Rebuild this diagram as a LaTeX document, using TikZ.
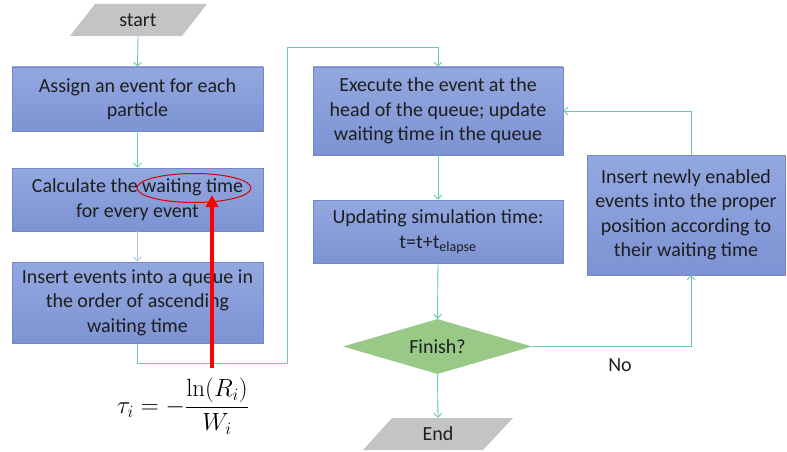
\documentclass[tikz,border=0pt]{standalone}
\usepackage[no-math]{fontspec}
\setmainfont{Carlito}
\usetikzlibrary{arrows.meta,shapes.geometric}
\definecolor{boxtop}{HTML}{93A8E0}
\definecolor{boxbot}{HTML}{7D93D3}
\definecolor{boxline}{HTML}{7488C8}
\definecolor{conncol}{HTML}{66CCAA}
\definecolor{lightconn}{HTML}{A8C8E8}
\definecolor{dgreen}{HTML}{98C987}
\definecolor{pgray}{HTML}{C4C4C4}
\definecolor{txt}{HTML}{1E1E1E}
\begin{document}
\begin{tikzpicture}[x=1pt,y=-1pt,
  box/.style={rectangle, draw=boxline, line width=0.6pt, top color=boxtop, bottom color=boxbot,
    text=txt, align=center, font=\fontsize{20}{24.5}\selectfont, inner sep=0pt},
  conn/.style={draw=conncol, line width=0.9pt, -{Straight Barb[length=4pt,width=8pt]}},
  term/.style={rectangle, inner sep=0pt, text=txt, font=\fontsize{20}{22}\selectfont}]
\useasboundingbox (0,0) rectangle (787,452);
% start parallelogram
\fill[pgray] (95,4) -- (207,4) -- (182,36) -- (70,36) -- cycle;
\node[term, minimum width=110, minimum height=32] (start) at (138,20) {start};
% boxes
\node[box, minimum width=251, minimum height=64] (b1) at (137.5,99) {Assign an event for each\\particle};
\node[box, minimum width=251, minimum height=63] (b2) at (137.5,199.5) {Calculate the waiting time\\for every event};
\node[box, minimum width=251, minimum height=81] (b3) at (137.5,302.5) {Insert events into a queue in\\the order of ascending\\waiting time};
\node[box, minimum width=250, minimum height=88] (b4) at (438,111) {Execute the event at the\\head of the queue; update\\waiting time in the queue};
\node[box, minimum width=250, minimum height=63] (b5) at (438,231.5) {Updating simulation time:\\t=t+t\textsubscript{elapse}};
\node[box, minimum width=198, minimum height=120] (b6) at (686,215) {Insert newly enabled\\events into the proper\\position according to\\their waiting time};
% diamond
\node[diamond, fill=dgreen, minimum width=189, minimum height=55, inner sep=0pt, aspect=3.4,
  text=txt, font=\fontsize{20}{22}\selectfont] (dia) at (437.5,346.5) {Finish?};
% end parallelogram
\fill[pgray] (392,418) -- (513,418) -- (483,450) -- (363,450) -- cycle;
\node[term, minimum width=110, minimum height=32] (end) at (438,434) {End};
% connectors
\draw[conn] (start.south) -- (b1.north);
\draw[conn] (b1.south) -- (b2.north);
\draw[conn, draw=lightconn] (b2.south) -- (b3.north);
\coordinate (j1) at (287,363);
\coordinate (j2) at (287,47);
\draw[conn] (b3.south) |- (j1) -- (j2) -| (b4.north);
\draw[conn] (b4.south) -- (b5.north);
\draw[conn] (b5.south) -- (dia.north);
\draw[conn] (dia.south) -- (end.north);
\coordinate (kx) at (691,0);
\draw[conn] (dia.east) -| (b6.south -| kx);
\node[text=txt, font=\fontsize{20}{22}\selectfont] (no) at (620,365) {No};
\draw[conn] (b6.north -| kx) |- (b4.east);
% formula and red annotation
\node[ellipse, draw=red!85!black, line width=1pt, minimum width=114, minimum height=29, inner sep=0pt] (ell) at (194,188) {};
\node[text=black, font=\fontsize{26}{30}\selectfont] (formula) at (183,406) {$\displaystyle\tau_i=-\frac{\ln(R_i)}{W_i}$};
\coordinate (rtail) at (212,368);
\coordinate (rtip) at (212,195);
\draw[red, line width=3.2pt, -{Triangle[length=12pt,width=12pt]}] (rtail) -- (rtip);
\end{tikzpicture}
\end{document}
